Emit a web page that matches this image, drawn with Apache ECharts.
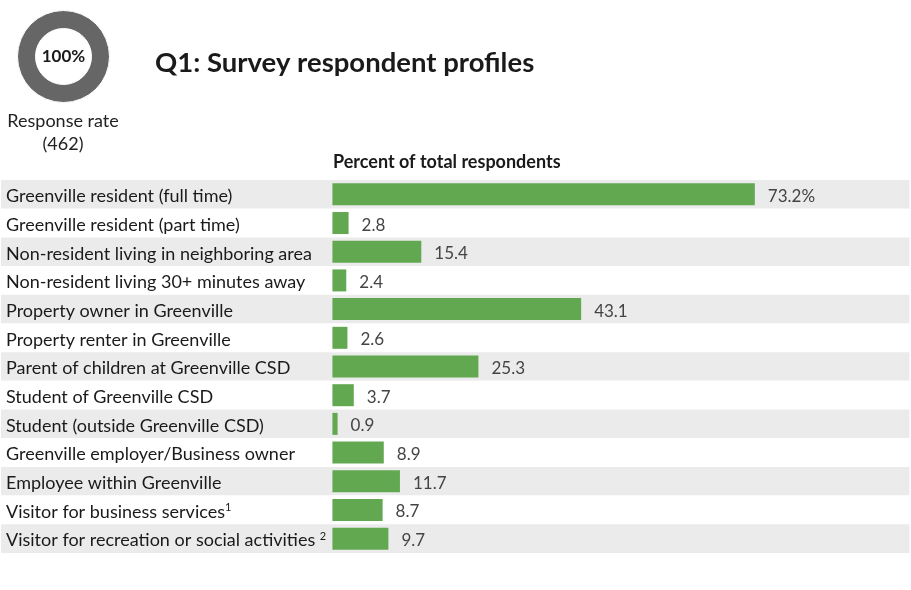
<!DOCTYPE html>
<html>
<head>
<meta charset="utf-8">
<script src="https://cdn.jsdelivr.net/npm/echarts@6/dist/echarts.min.js"></script>
<style>
  html, body { margin: 0; padding: 0; background: #fff; }
  #chart { width: 911px; height: 590px; }
</style>
</head>
<body>
<div id="chart"></div>
<script>
// Survey respondent profiles (percent of total respondents)
const categories = [
  'Greenville resident (full time)',
  'Greenville resident (part time)',
  'Non-resident living in neighboring area',
  'Non-resident living 30+ minutes away',
  'Property owner in Greenville',
  'Property renter in Greenville',
  'Parent of children at Greenville CSD',
  'Student of Greenville CSD',
  'Student (outside Greenville CSD)',
  'Greenville employer/Business owner',
  'Employee within Greenville',
  'Visitor for business services¹',
  'Visitor for recreation or social activities ²'
];
const percents = [73.2, 2.8, 15.4, 2.4, 43.1, 2.6, 25.3, 3.7, 0.9, 8.9, 11.7, 8.7, 9.7];
const responseRate = 100;
const responseCount = 462;

const font = 'Lato';
const chart = echarts.init(document.getElementById('chart'));

// turn unicode superscript footnote marks into rich text
const supText = s => s.replace('¹', '{sup|1}').replace('²', '{sup|2}');

const option = {
  backgroundColor: '#ffffff',
  animation: false,
  textStyle: { fontFamily: font },
  title: [
    {
      text: 'Q1: Survey respondent profiles',
      left: 155, top: 49, padding: 0,
      textStyle: { fontFamily: font, fontSize: 27.5, fontWeight: 'bold', color: '#1a1a1a' }
    },
    {
      text: 'Response rate\n(' + responseCount + ')',
      left: 63, top: 110, textAlign: 'center', padding: 0,
      textStyle: { fontFamily: font, fontSize: 18, fontWeight: 'normal', color: '#222', lineHeight: 23, align: 'center' }
    },
    {
      text: 'Percent of total respondents',
      left: 333, top: 153, padding: 0,
      textStyle: { fontFamily: font, fontSize: 18, fontWeight: 'bold', color: '#1a1a1a' }
    }
  ],
  grid: { left: 1, right: 1.5, top: 180, bottom: 37 },
  xAxis: {
    type: 'value',
    min: -57.43, max: 100,
    show: false
  },
  yAxis: {
    type: 'category',
    data: categories,
    inverse: true,
    axisLine: { show: false },
    axisTick: { show: false },
    splitLine: { show: false },
    splitArea: { show: true, areaStyle: { color: ['#ebebeb', '#ffffff'] } },
    axisLabel: {
      inside: true,
      margin: 5,
      fontFamily: font,
      fontSize: 18,
      lineHeight: 20,
      padding: [4, 0, 0, 0],
      color: '#1a1a1a',
      formatter: v => supText(v),
      rich: {
        sup: { fontFamily: font, fontSize: 11, lineHeight: 11, verticalAlign: 'top', color: '#1a1a1a' }
      }
    }
  },
  series: [
    {
      type: 'bar',
      data: percents,
      barWidth: 22,
      itemStyle: { color: '#62a850' },
      label: {
        show: true,
        position: 'right',
        distance: 13,
        offset: [0, 2],
        fontFamily: font,
        fontSize: 17,
        color: '#444',
        formatter: p => p.dataIndex === 0 ? p.value.toFixed(1) + '%' : p.value.toFixed(1)
      }
    },
    {
      type: 'pie',
      center: [63.5, 56.5],
      radius: [28, 46],
      startAngle: 90,
      silent: true,
      label: {
        show: true,
        position: 'center',
        formatter: responseRate + '%',
        fontFamily: font,
        fontSize: 17,
        fontWeight: 'bold',
        color: '#1a1a1a'
      },
      labelLine: { show: false },
      itemStyle: { color: '#666666', borderColor: '#ffffff', borderWidth: 1 },
      data: [{ value: responseRate, name: 'Response rate' }]
    }
  ]
};

chart.setOption(option);
</script>
</body>
</html>
